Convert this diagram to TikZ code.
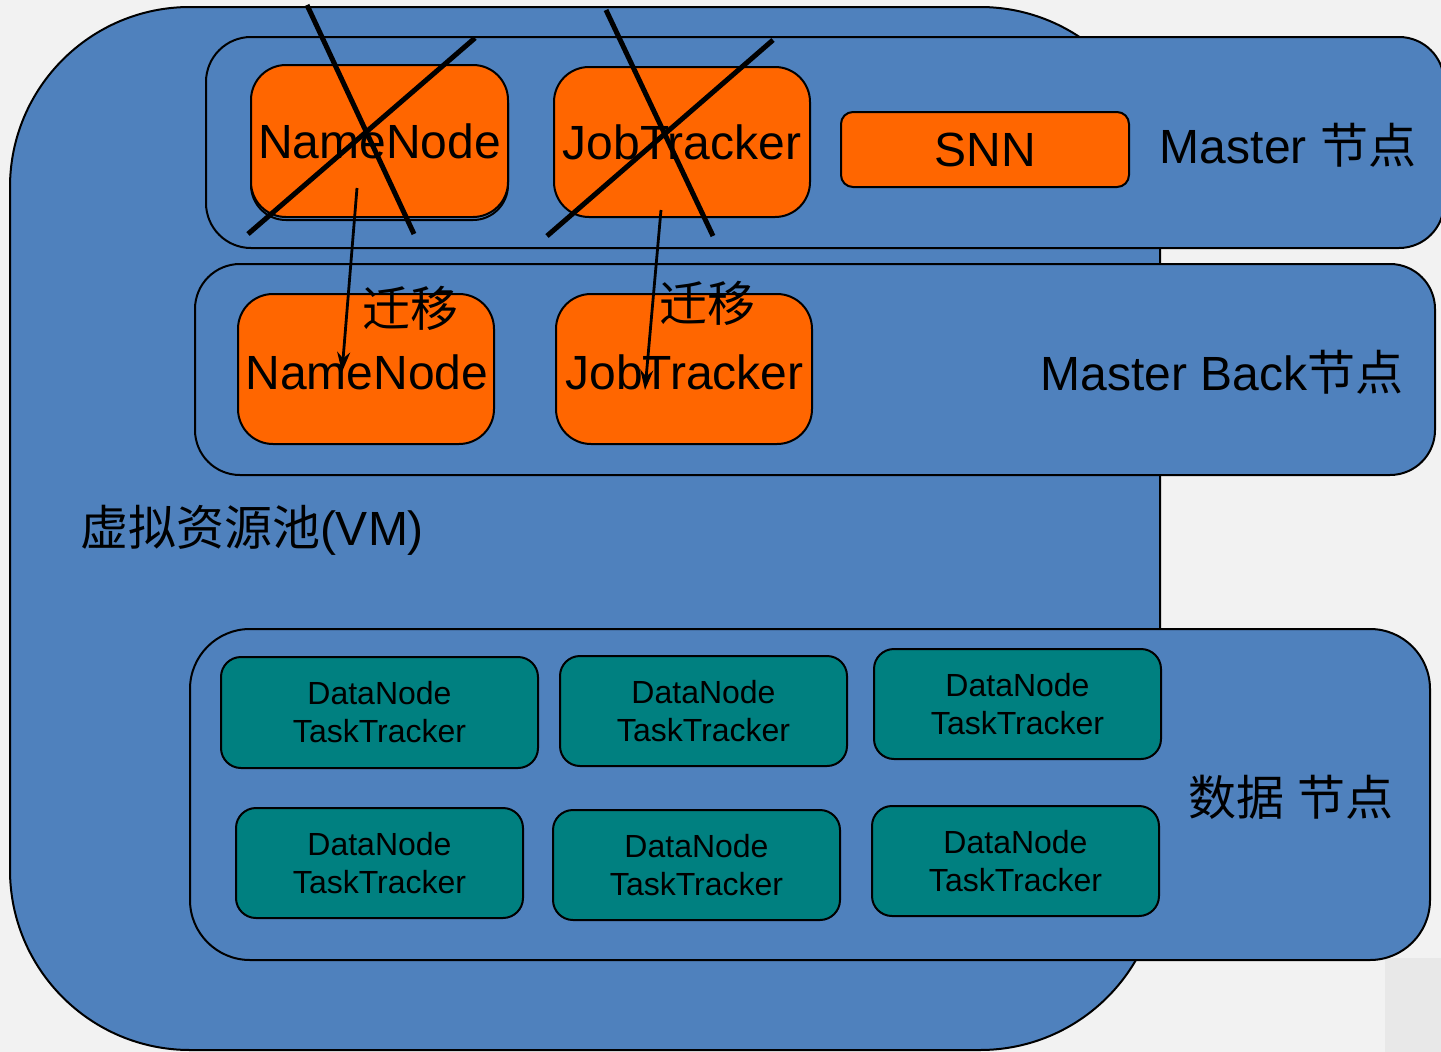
\documentclass[tikz,border=0pt]{standalone}
\usepackage{fontspec}
\setmainfont{Liberation Sans}
\newfontfamily\cjk{Noto Sans CJK SC}
\usetikzlibrary{arrows.meta}
\definecolor{bgpaper}{HTML}{F2F2F2}
\definecolor{bgpatch}{HTML}{E8E8E8}
\definecolor{poolblue}{HTML}{4F81BD}
\definecolor{masterorange}{HTML}{FF6600}
\definecolor{dnteal}{HTML}{008080}
\tikzset{
  panel/.style={draw=black, line width=2pt, fill=poolblue, rounded corners=#1,
    inner sep=0pt, rectangle},
  orangebox/.style={draw=black, line width=2pt, fill=masterorange,
    rounded corners=35pt, inner sep=0pt, minimum width=256pt, minimum height=150pt,
    font=\fontsize{48}{52}\selectfont},
  dnbox/.style={draw=black, line width=2pt, fill=dnteal, rounded corners=20pt,
    inner sep=0pt, minimum width=287pt, minimum height=110pt, align=center,
    font=\fontsize{32}{38}\selectfont},
  biglabel/.style={inner sep=0pt, font=\fontsize{48}{52}\selectfont},
  crossline/.style={line width=5pt},
  moveline/.style={line width=2.8pt, -{Stealth[length=20pt,width=13pt]}}
}
\begin{document}
\begin{tikzpicture}[x=1pt,y=-1pt]
\useasboundingbox (0,0) rectangle (1441,1052);
\fill[bgpaper] (0,0) rectangle (1441,1052);
\fill[bgpatch] (1385,958) rectangle (1441,1052);

% virtual resource pool
\node[panel=180pt, minimum width=1150pt, minimum height=1043pt] (pool) at (585,528.5) {};

% tiers
\node[panel=45pt, minimum width=1238pt, minimum height=211pt] (master) at (825,142.5) {};
\node[panel=45pt, minimum width=1240pt, minimum height=211pt] (back) at (815,369.5) {};
\node[panel=60pt, minimum width=1240pt, minimum height=331pt] (data) at (810,794.5) {};

% master services
\node[orangebox, minimum width=257pt, minimum height=152pt, fill=none] (nnshadow) at (379.5,144) {};
\node[orangebox, minimum width=257pt, minimum height=152pt] (nn) at (379.5,141) {NameNode};
\node[orangebox] (jt) at (682,142) {JobTracker};
\node[orangebox, rounded corners=12pt, minimum width=288pt, minimum height=75pt] (snn) at (985,149.5) {SNN};

% backup services
\node[orangebox] (nnb) at (366,369) {};
\node[biglabel] (nnbtext) at (367,372) {NameNode};
\node[orangebox] (jtb) at (684,369) {};
\node[biglabel] (jtbtext) at (684.5,372) {JobTracker};

% data nodes
\node[dnbox, minimum width=317pt, minimum height=111pt] (d1) at (379.5,712.5) {DataNode\\TaskTracker};
\node[dnbox] (d2) at (703.5,711) {DataNode\\TaskTracker};
\node[dnbox] (d3) at (1017.5,704) {DataNode\\TaskTracker};
\node[dnbox] (d4) at (379.5,863) {DataNode\\TaskTracker};
\node[dnbox] (d5) at (696.5,865) {DataNode\\TaskTracker};
\node[dnbox] (d6) at (1015.5,861) {DataNode\\TaskTracker};

% labels
\node[biglabel] (lmaster) at (1288,145) {Master {\cjk 节点}};
\node[biglabel] (lback) at (1222,372) {Master Back{\cjk 节点}};
\node[biglabel] (lpool) at (252,530) {{\cjk 虚拟资源池}(VM)};
\node[biglabel] (ldata) at (1291,797) {{\cjk 数据} {\cjk 节点}};
\node[biglabel] (lmove1) at (410,308) {\cjk 迁移};
\node[biglabel] (lmove2) at (707,303) {\cjk 迁移};

% crossed-out master services
\coordinate (nnx1a) at (307,5);   \coordinate (nnx1b) at (414,234);
\coordinate (nnx2a) at (475,38);  \coordinate (nnx2b) at (248,234);
\coordinate (jtx1a) at (606,10);  \coordinate (jtx1b) at (713,236);
\coordinate (jtx2a) at (773,40);  \coordinate (jtx2b) at (547,236);
\draw[crossline] (nnx1a) -- (nnx1b);
\draw[crossline] (nnx2a) -- (nnx2b);
\draw[crossline] (jtx1a) -- (jtx1b);
\draw[crossline] (jtx2a) -- (jtx2b);

% migration arrows
\coordinate (nnfrom) at (357,188); \coordinate (nnto) at (342,372);
\coordinate (jtfrom) at (661,210); \coordinate (jtto) at (645,390);
\draw[moveline] (nnfrom) -- (nnto);
\draw[moveline] (jtfrom) -- (jtto);
\end{tikzpicture}
\end{document}
